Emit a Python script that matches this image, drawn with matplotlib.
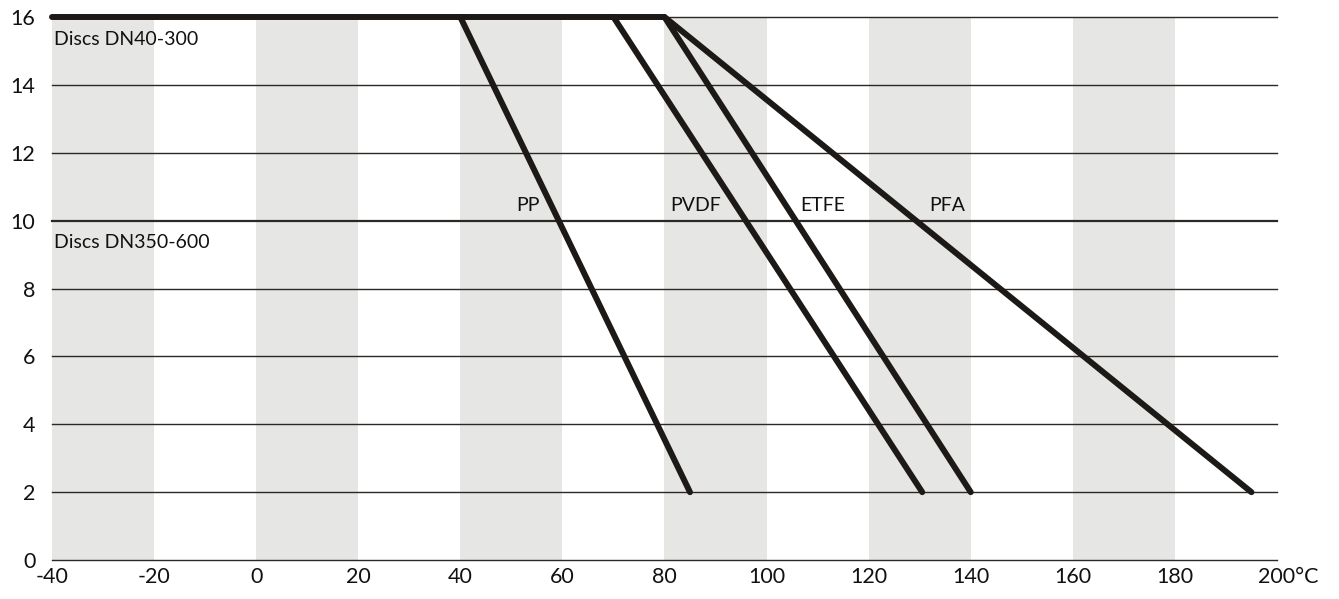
import numpy as np
import matplotlib.pyplot as plt
import matplotlib.transforms as mtransforms

plt.rcParams["font.family"] = ["Lato", "DejaVu Sans"]

# ── Data ──────────────────────────────────────────────────────────────────────
x_ticks = [-40, -20, 0, 20, 40, 60, 80, 100, 120, 140, 160, 180, 200]
x_labels = ["-40", "-20", "0", "20", "40", "60", "80", "100", "120", "140",
            "160", "180", "200°C"]
y_ticks = [0, 2, 4, 6, 8, 10, 12, 14, 16]
band_starts = [-40, 0, 40, 80, 120, 160]
band_width = 20

# pressure/temperature curves: (temp, pressure)
pp_t, pp_p = [40, 85], [16, 2]
pvdf_t, pvdf_p = [70, 130.5], [16, 2]
etfe_t, etfe_p = [80, 140], [16, 2]
pfa_t, pfa_p = [80, 195], [16, 2]
top_t, top_p = [-40, 80], [16, 16]
dn350_p = 10

labels = ["PP", "PVDF", "ETFE", "PFA"]
label_x = [55.5, 91, 115.5, 139]

LINE = "#1c1917"
GREY = "#e6e6e5"

fig = plt.figure(figsize=(13.39, 5.99), dpi=100)
ax = fig.add_axes([0.0388, 0.065, 0.9149, 0.9066])
ax.set_xlim(-40, 200)
ax.set_ylim(0, 16)

# ── Background bands and grid ────────────────────────────────────────────────
for s in band_starts:
    ax.axvspan(s, s + band_width, color=GREY, lw=0, zorder=0)
for y in y_ticks:
    ax.axhline(y, color="#2b2826", lw=1.0 if y != dn350_p else 1.6, zorder=1,
               clip_on=False)

# ── Curves ───────────────────────────────────────────────────────────────────
kw = dict(color=LINE, lw=4.3, solid_capstyle="round", zorder=3, clip_on=False)
ax.plot(top_t, top_p, **kw)
for t, p in [(pp_t, pp_p), (pvdf_t, pvdf_p), (etfe_t, etfe_p), (pfa_t, pfa_p)]:
    ax.plot(t, p, **kw)

# ── Annotations ──────────────────────────────────────────────────────────────
fs = 14
for lab, lx in zip(labels, label_x):
    ax.text(lx, 10.2, lab, ha="right", va="bottom", fontsize=fs, color="#111")
ax.text(-39.6, 15.6, "Discs DN40-300", ha="left", va="top", fontsize=fs,
        color="#111")
ax.text(-39.6, 9.6, "Discs DN350-600", ha="left", va="top", fontsize=fs,
        color="#111")

# ── Axes styling ─────────────────────────────────────────────────────────────
for sp in ax.spines.values():
    sp.set_visible(False)
ax.set_xticks(x_ticks)
ax.set_xticklabels(x_labels, fontsize=15.5)
ax.set_yticks(y_ticks)
ax.set_yticklabels([str(v) for v in y_ticks], fontsize=15.5)
ax.tick_params(length=0, colors="#111")
ax.tick_params(axis="x", pad=5)
ax.tick_params(axis="y", pad=12)

# keep "200" centred on its tick, with °C hanging to the right
last = ax.get_xticklabels()[-1]
last.set_horizontalalignment("left")
last.set_transform(last.get_transform() +
                   mtransforms.ScaledTranslation(-19 / 100, 0, fig.dpi_scale_trans))

fig.savefig("out.png", dpi=100)
